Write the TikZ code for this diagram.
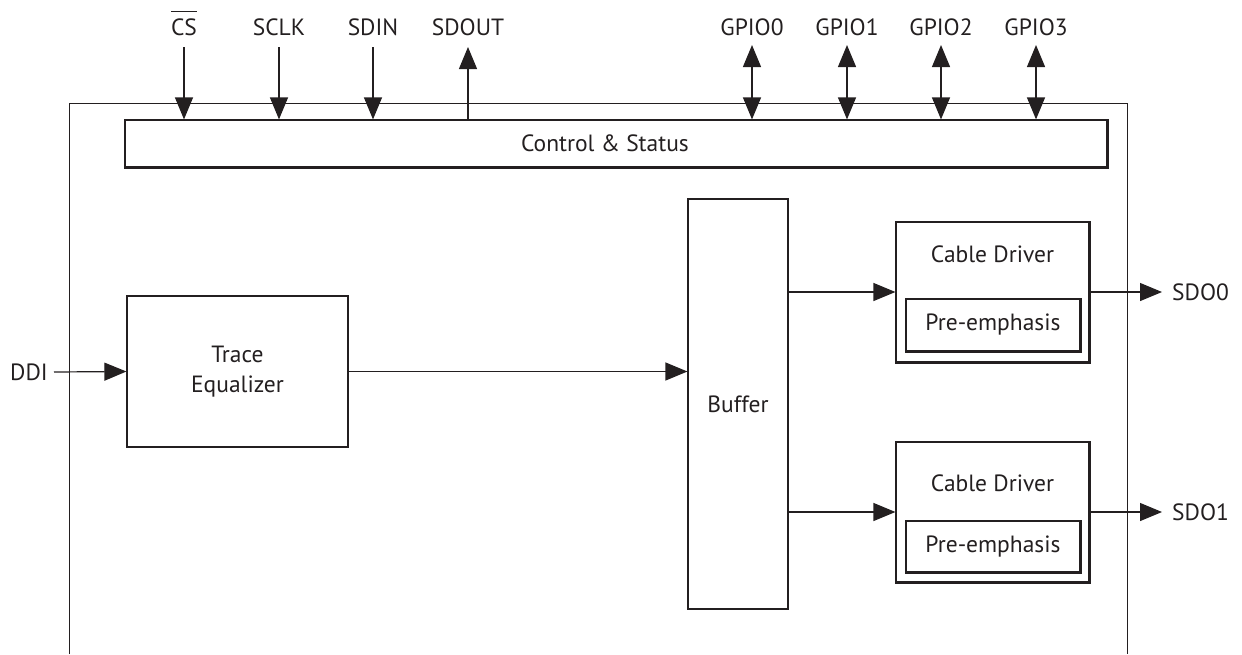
\documentclass[tikz,border=0pt]{standalone}
\usepackage{fontspec}
\setmainfont{PT Sans}
\usetikzlibrary{arrows.meta}
\definecolor{ink}{HTML}{231F20}
\newcommand\barover[1]{\leavevmode\vbox{\hrule height 1pt\kern 6.5pt\hbox{#1}}}
\begin{document}
\begin{tikzpicture}[x=1pt,y=-1pt,
  every node/.style={font=\fontsize{23.5}{30}\selectfont, text=ink},
  blk/.style={draw=ink, line width=1.2pt, inner sep=0pt},
  pinlbl/.style={anchor=base, inner sep=0pt},
  arr/.style={draw=ink, line width=1.2pt, -{Triangle[length=22pt,width=18pt]}},
  biarr/.style={draw=ink, line width=1.2pt, {Triangle[length=22pt,width=18pt]}-{Triangle[length=22pt,width=18pt]}},
  heavy/.style={draw=ink, line width=2pt}]
\useasboundingbox (0,0) rectangle (1242,654);

% device outline
\draw[ink, line width=1pt] (69,654) -- (69,103) -- (1127,103) -- (1127,654);

% blocks
\node[blk, minimum width=982pt, minimum height=47pt] (ctrl) at (616,143.5) {};
\node at (605,143.5) {Control \& Status};
\node[blk, minimum width=221pt, minimum height=151pt, align=center] (te) at (237.5,371.5) {Trace\\Equalizer};
\node[blk, minimum width=100pt, minimum height=410pt] (buf) at (738,404) {Buffer};
\node[blk, minimum width=193pt, minimum height=140pt] (cd0) at (992.5,292) {};
\node[blk, minimum width=174pt, minimum height=52pt] (pe0) at (993,325) {Pre-emphasis};
\node at (992.5,254) {Cable Driver};
\node[blk, minimum width=193pt, minimum height=140pt] (cd1) at (992.5,512) {};
\node[blk, minimum width=174pt, minimum height=51pt] (pe1) at (993,546.5) {Pre-emphasis};
\node at (992.5,483) {Cable Driver};

% heavier right and bottom edges
\foreach \n in {ctrl,cd0,pe0,cd1,pe1}
  \draw[heavy] (\n.north east) -- (\n.south east) -- (\n.south west);

% serial interface pins
\coordinate (cs) at (184,47);
\coordinate (sclk) at (279,47);
\coordinate (sdin) at (373,47);
\coordinate (sdout) at (468,47);
\node[pinlbl] at (184,35) {\barover{CS}};
\node[pinlbl] at (279,35) {SCLK};
\node[pinlbl] at (373,35) {SDIN};
\node[pinlbl] at (468,35) {SDOUT};
\draw[arr] (cs) -- (cs |- ctrl.north);
\draw[arr] (sclk) -- (sclk |- ctrl.north);
\draw[arr] (sdin) -- (sdin |- ctrl.north);
\draw[arr] (sdout |- ctrl.north) -- (sdout);

% general purpose I/O pins
\foreach \i/\x in {0/752,1/847,2/941,3/1036}{
  \coordinate (gpio\i) at (\x,45);
  \node[pinlbl] at (\x,35) {GPIO\i};
  \draw[biarr] (gpio\i) -- (gpio\i |- ctrl.north);
}

% data path
\coordinate (ddi) at (54,372);
\node[anchor=east, inner sep=0pt] at (48,372) {DDI};
\draw[arr] (ddi) -- (te.west);
\draw[arr] (te.east) -- (te.east -| buf.west);
\draw[arr] (buf.east |- cd0.west) -- (cd0.west);
\draw[arr] (buf.east |- cd1.west) -- (cd1.west);

\coordinate (sdo0) at (1162,292);
\coordinate (sdo1) at (1162,512);
\draw[arr] (cd0.east) -- (sdo0);
\draw[arr] (cd1.east) -- (sdo1);
\node[anchor=west, inner sep=0pt] at (1172,292) {SDO0};
\node[anchor=west, inner sep=0pt] at (1172,512) {SDO1};
\end{tikzpicture}
\end{document}
